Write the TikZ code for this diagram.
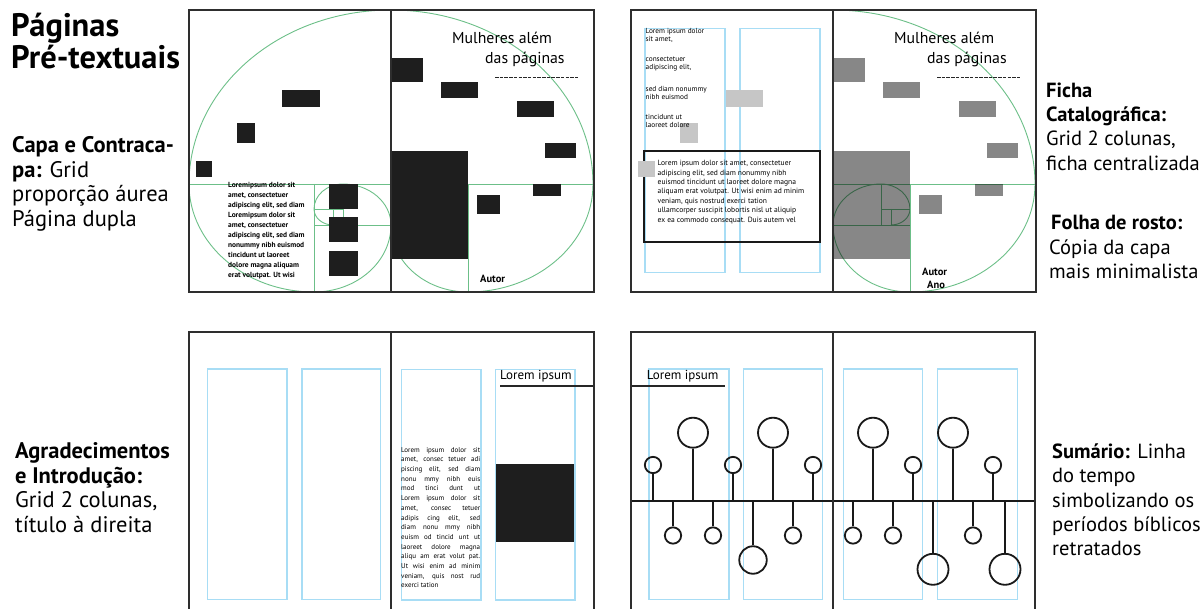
\documentclass[tikz,border=0pt]{standalone}
\usepackage{fontspec}
\setmainfont{PT Sans}
\definecolor{grn}{HTML}{6CBF88}
\definecolor{blu}{HTML}{A8DDF5}
\definecolor{brd}{HTML}{2E2E2E}
\definecolor{blkf}{HTML}{1E1E1E}
\definecolor{lgray}{HTML}{C6C6C6}
\newcommand\mkspiralR{%
  \draw[gl] (391,184) -- (593,184);
  \draw[gl] (468,184) -- (468,292);
  \draw[gl] (391,225) -- (468,225);
  \draw[gl] (439,184) -- (439,225);
  \draw[gl] (439,209) -- (468,209);
  \draw[gl] (449,209) -- (449,225);
  \draw[gl] (391,10) arc[start angle=90,end angle=0,x radius=202pt,y radius=174pt]
     arc[start angle=0,end angle=-90,x radius=125pt,y radius=108pt]
     arc[start angle=-90,end angle=-180,x radius=77pt,y radius=67pt]
     arc[start angle=180,end angle=90,x radius=48pt,y radius=41pt]
     arc[start angle=90,end angle=0,x radius=29pt,y radius=25pt]
     arc[start angle=0,end angle=-90,x radius=19pt,y radius=16pt];
}
\newcommand\mkcover[2]{%
  \fill[#1] (391,58.3) rectangle (422.7,81.7);
  \fill[#1] (440.7,81.7) rectangle (478.3,98.3);
  \fill[#1] (516.7,101) rectangle (554.3,117.3);
  \fill[#1] (545.3,143.3) rectangle (576,157.7);
  \fill[#1] (391,150.7) rectangle (468.3,259.3);
  \fill[#1] (477.3,195.3) rectangle (500,213.7);
  \fill[#1] (532.7,184) rectangle (560.7,196);
  \node[covertxt] (#2m1) at (452,43.3) {Mulheres além};
  \node[covertxt] (#2m2) at (485,63.3) {das páginas};
  \coordinate (#2d1) at (495,78);
  \coordinate (#2d2) at (578,78);
  \draw[dashline] (#2d1) -- (#2d2);
}
\newcommand\jl[1]{\hbox to 79pt{#1}}
\begin{document}
\begin{tikzpicture}[x=1pt,y=-1pt,
  pageb/.style={draw=brd, line width=1.8pt},
  col/.style={draw=blu, line width=1.1pt},
  gl/.style={draw=grn, line width=0.9pt},
  lbl/.style={anchor=base west, inner sep=0, font=\fontsize{22.5}{26}\selectfont},
  rlbl/.style={anchor=base west, inner sep=0, font=\fontsize{20.5}{24}\selectfont},
  ttl/.style={anchor=base west, inner sep=0, font=\fontsize{32.5}{36}\selectfont\bfseries},
  tinytxt/.style={anchor=north west, inner sep=0, align=left},
  covertxt/.style={anchor=base west, inner sep=0, font=\fontsize{15.8}{18}\selectfont},
  autor/.style={anchor=base west, inner sep=0, font=\fontsize{10.5}{12}\selectfont\bfseries},
  dashline/.style={draw=black!85, line width=1pt, dash pattern=on 3.5pt off 1.2pt},
  heading/.style={anchor=base west, inner sep=0, font=\fontsize{13}{15}\selectfont},
  dot/.style={circle, draw=black!90, line width=1.8pt, inner sep=0},
  sm/.style={dot, minimum size=16.3pt},
  bg/.style={dot, minimum size=30pt},
  stem/.style={draw=black!90, line width=1.8pt},
  ]
\useasboundingbox (0,0) rectangle (1202,609);

% ---------- left labels
\node[ttl] (t1) at (11,37) {Páginas};
\node[ttl] (t2) at (11,69) {Pré-textuais};
\node[lbl] (c1) at (12,153) {\textbf{Capa e Contraca-}};
\node[lbl] (c2) at (12,177.5) {\textbf{pa:} Grid};
\node[lbl] (c3) at (12,202) {proporção áurea};
\node[lbl] (c4) at (12,226.5) {Página dupla};
\node[lbl] (a1) at (15,458.3) {\textbf{Agradecimentos}};
\node[lbl] (a2) at (15,483) {\textbf{e Introdução:}};
\node[lbl] (a3) at (15,507.5) {Grid 2 colunas,};
\node[lbl] (a4) at (15,532) {título à direita};
% ---------- right labels
\node[rlbl] (f1) at (1046,97.3) {\textbf{Ficha}};
\node[rlbl] (f2) at (1046,121.7) {\textbf{Catalográfica:}};
\node[rlbl] (f3) at (1046,146) {Grid 2 colunas,};
\node[rlbl] (f4) at (1046,170.5) {ficha centralizada};
\node[rlbl] (r1) at (1051,230) {\textbf{Folha de rosto:}};
\node[rlbl] (r2) at (1049,254.3) {Cópia da capa};
\node[rlbl] (r3) at (1049,279) {mais minimalista};
\node[rlbl] (s1) at (1052,458.3) {\textbf{Sumário:} Linha};
\node[rlbl] (s2) at (1052,482.5) {do tempo};
\node[rlbl] (s3) at (1052,507) {simbolizando os};
\node[rlbl] (s4) at (1052,531) {períodos bíblicos};
\node[rlbl] (s5) at (1052,555.5) {retratados};

% ---------- top-left spread: capa e contracapa
\draw[gl] (189,184) -- (391,184);
\draw[gl] (314,184) -- (314,292);
\draw[gl] (314,225) -- (391,225);
\draw[gl] (343,184) -- (343,225);
\draw[gl] (314,209) -- (343,209);
\draw[gl] (333,209) -- (333,225);
\draw[gl] (391,10) arc[start angle=90,end angle=180,x radius=202pt,y radius=174pt]
   arc[start angle=180,end angle=270,x radius=125pt,y radius=108pt]
   arc[start angle=270,end angle=360,x radius=77pt,y radius=67pt]
   arc[start angle=0,end angle=90,x radius=48pt,y radius=41pt]
   arc[start angle=90,end angle=180,x radius=29pt,y radius=25pt]
   arc[start angle=180,end angle=270,x radius=19pt,y radius=16pt];
\mkspiralR
\fill[blkf] (282.3,90) rectangle (320,107.3);
\fill[blkf] (236.7,123.3) rectangle (255,142.7);
\fill[blkf] (195.7,160.7) rectangle (211.7,177.3);
\fill[blkf] (329,184) rectangle (358.3,209);
\fill[blkf] (329,217.3) rectangle (358.3,242.3);
\fill[blkf] (329,250.7) rectangle (358.3,276);
\node[tinytxt, font=\fontsize{7.4}{9.9}\selectfont\bfseries] (lt) at (228,182.5) {Loremipsum dolor sit\\amet, consectetuer\\adipiscing elit, sed diam\\Loremipsum dolor sit\\amet, consectetuer\\adipiscing elit, sed diam\\nonummy nibh euismod\\tincidunt ut laoreet\\dolore magna aliquam\\erat volutpat. Ut wisi};
\mkcover{blkf}{A}
\node[autor] (au1) at (480,282.7) {Autor};
\draw[pageb] (189,10) rectangle (594,292);
\draw[pageb] (391,10) -- (391,292);

% ---------- top-right spread: ficha + folha de rosto
\draw[col] (645,28.3) rectangle (725,272.7);
\draw[col] (740,28.3) rectangle (820,272.7);
\fill[lgray] (726,90) rectangle (763.3,107.3);
\fill[lgray] (680,122.7) rectangle (697.7,142.7);
\node[tinytxt, font=\fontsize{7.3}{8.2}\selectfont] (g1) at (645.5,28) {Lorem ipsum dolor\\sit amet,};
\node[tinytxt, font=\fontsize{7.3}{8.2}\selectfont] (g2) at (645.5,56.7) {consectetuer\\adipiscing elit,};
\node[tinytxt, font=\fontsize{7.3}{8.2}\selectfont] (g3) at (645.5,85.7) {sed diam nonummy\\nibh euismod};
\node[tinytxt, font=\fontsize{7.3}{8.2}\selectfont] (g4) at (645.5,114.2) {tincidunt ut\\laoreet dolore};
\draw[draw=black!90, line width=1.8pt] (644.3,150.7) rectangle (820,241.7);
\fill[lgray] (638.3,161) rectangle (655,176.7);
\node[tinytxt, font=\fontsize{7.55}{9.4}\selectfont] (fb) at (657.5,160.2) {Lorem ipsum dolor sit amet, consectetuer\\adipiscing elit, sed diam nonummy nibh\\euismod tincidunt ut laoreet dolore magna\\aliquam erat volutpat. Ut wisi enim ad minim\\veniam, quis nostrud exerci tation\\ullamcorper suscipit lobortis nisl ut aliquip\\ex ea commodo consequat. Duis autem vel};
\begin{scope}[xshift=442pt]
\mkspiralR
\mkcover{black, fill opacity=0.47}{B}
\end{scope}
\node[autor] (au2) at (922,276) {Autor};
\node[autor] (an2) at (927,288.7) {Ano};
\draw[pageb] (631,10) rectangle (1036,292);
\draw[pageb] (833,10) -- (833,292);

% ---------- bottom-left spread: agradecimentos e introducao
\draw[col] (207.3,369) rectangle (287,599.3);
\draw[col] (302,369) rectangle (380.7,599.3);
\draw[col] (401.7,369.3) rectangle (481,600);
\draw[col] (495.7,369.3) rectangle (575,600);
\node[heading] (h1) at (500,380) {Lorem ipsum};
\coordinate (h1a) at (500,386);
\coordinate (h1b) at (594,386);
\draw[draw=black!85, line width=1.8pt] (h1a) -- (h1b);
\fill[blkf] (496,464.3) rectangle (574,541.7);
\node[tinytxt, font=\fontsize{7}{9.7}\selectfont] (jt) at (401,447) {%
\jl{Lorem ipsum dolor sit}\\
\jl{amet, consec tetuer adi}\\
\jl{piscing elit, sed diam}\\
\jl{nonu mmy nibh euis}\\
\jl{mod tinci dunt ut}\\
\jl{Lorem ipsum dolor sit}\\
\jl{amet, consec tetuer}\\
\jl{adipis cing elit, sed}\\
\jl{diam nonu mmy nibh}\\
\jl{euism od tincid unt ut}\\
\jl{laoreet dolore magna}\\
\jl{aliqu am erat volut pat.}\\
\jl{Ut wisi enim ad minim}\\
\jl{veniam, quis nost rud}\\
exerci tation};
\draw[pageb] (189,612) -- (189,332) -- (594,332) -- (594,612);
\draw[pageb] (391,332) -- (391,612);

% ---------- bottom-right spread: sumario
\draw[col] (649,369) rectangle (729,599.3);
\draw[col] (743.3,369) rectangle (822.3,599.3);
\draw[col] (843.3,369) rectangle (922.3,599.3);
\draw[col] (937.7,369) rectangle (1017.3,599.3);
\node[heading] (h2) at (646.7,380) {Lorem ipsum};
\coordinate (h2a) at (631,386);
\coordinate (h2b) at (725,386);
\draw[draw=black!85, line width=1.8pt] (h2a) -- (h2b);
\coordinate (tl) at (631,501);
\coordinate (tr) at (1035,501);
\draw[stem] (tl) -- (tr);
\foreach \x/\n in {653/1,733/2,813/3,913/4,993/5}{
  \node[sm] (us\n) at (\x,465) {};
  \draw[stem] (us\n) -- (us\n |- tl);
}
\foreach \x/\n in {693/1,773/2,873/3,953/4}{
  \node[bg] (ub\n) at (\x,432.7) {};
  \draw[stem] (ub\n) -- (ub\n |- tl);
}
\foreach \x/\n in {673/1,713/2,793/3,853/4,893/5,973/6}{
  \node[sm] (ds\n) at (\x,535.5) {};
  \draw[stem] (ds\n) -- (ds\n |- tl);
}
\node[dot, minimum size=27.5pt] (db1) at (753,560) {};
\draw[stem] (db1) -- (db1 |- tl);
\node[dot, minimum size=31pt] (db2) at (933,569.3) {};
\draw[stem] (db2) -- (db2 |- tl);
\node[dot, minimum size=31pt] (db3) at (1005,569.3) {};
\draw[stem] (db3) -- (db3 |- tl);
\draw[pageb] (631,612) -- (631,332) -- (1035,332) -- (1035,612);
\draw[pageb] (833,332) -- (833,612);
\end{tikzpicture}
\end{document}
